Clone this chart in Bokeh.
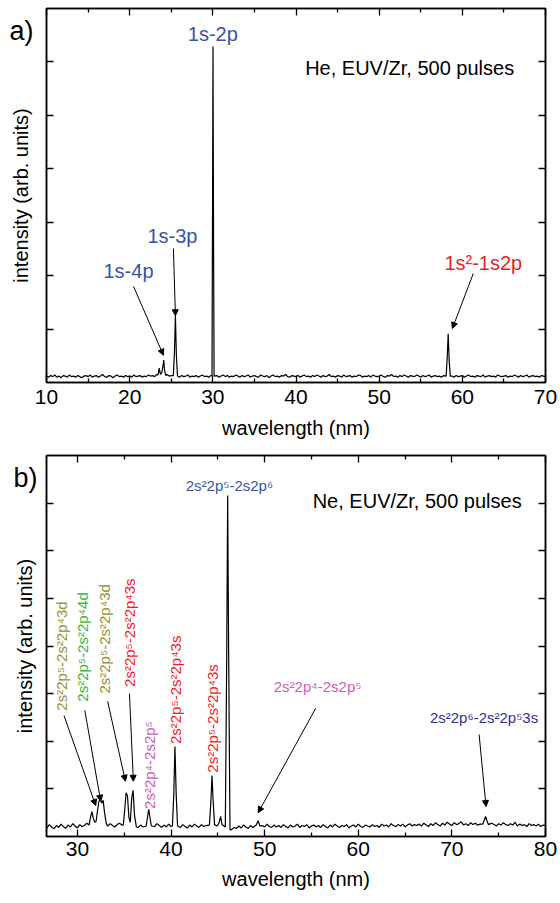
import numpy as np
from bokeh.plotting import figure
from bokeh.models import (Label, LabelSet, Arrow, NormalHead, LinearAxis, FixedTicker,
                          Range1d, ColumnDataSource, CustomJSTickFormatter)
from bokeh.core.properties import value
from bokeh.layouts import column
from bokeh.embed import file_html
from bokeh.resources import INLINE

FONT = "Liberation Sans"

# ---------------- data: panel a (He) ----------------
he_base_start = 10.0
he_base_step = 0.25
he_base_int = [
    0.12, 0.10, 0.13, 0.11, 0.14, 0.10, 0.12, 0.09, 0.13, 0.12, 0.10, 0.14, 0.11, 0.12, 0.10, 0.13, 0.11, 0.09, 0.12, 0.13,
    0.11, 0.14, 0.10, 0.12, 0.13, 0.10, 0.12, 0.15, 0.11, 0.10, 0.13, 0.12, 0.09, 0.12, 0.14, 0.11, 0.12, 0.10, 0.13, 0.11,
    0.12, 0.10, 0.14, 0.11, 0.12, 0.13, 0.10, 0.12, 0.11, 0.14, 0.12, 0.13, 0.11, 0.15, 0.13, 0.14, 0.16, 0.13, 0.15, 0.12,
    0.13, 0.11, 0.14, 0.12, 0.10, 0.13, 0.11, 0.12, 0.14, 0.10, 0.12, 0.11, 0.13, 0.10, 0.12, 0.14, 0.11, 0.12, 0.10, 0.13,
    0.12, 0.11, 0.13, 0.10, 0.12, 0.14, 0.11, 0.13, 0.10, 0.12, 0.11, 0.14, 0.12, 0.10, 0.13, 0.11, 0.12, 0.14, 0.10, 0.12,
    0.13, 0.11, 0.10, 0.14, 0.12, 0.11, 0.13, 0.09, 0.12, 0.14, 0.11, 0.12, 0.10, 0.13, 0.12, 0.15, 0.11, 0.10, 0.13, 0.12,
    0.11, 0.13, 0.10, 0.12, 0.14, 0.11, 0.12, 0.10, 0.13, 0.11, 0.14, 0.12, 0.10, 0.13, 0.11, 0.12, 0.15, 0.11, 0.12, 0.10,
    0.13, 0.12, 0.10, 0.14, 0.11, 0.12, 0.13, 0.10, 0.12, 0.11, 0.14, 0.13, 0.10, 0.12, 0.11, 0.13, 0.10, 0.14, 0.12, 0.11,
    0.12, 0.14, 0.11, 0.10, 0.13, 0.12, 0.15, 0.11, 0.12, 0.10, 0.13, 0.11, 0.14, 0.12, 0.10, 0.13, 0.12, 0.11, 0.14, 0.12,
    0.10, 0.13, 0.11, 0.12, 0.14, 0.10, 0.12, 0.13, 0.11, 0.12, 0.10, 0.13, 0.12, 0.11, 0.14, 0.12, 0.10, 0.13, 0.11, 0.12,
    0.13, 0.10, 0.12, 0.14, 0.11, 0.12, 0.10, 0.13, 0.12, 0.11, 0.14, 0.10, 0.12, 0.13, 0.11, 0.12, 0.10, 0.14, 0.12, 0.11,
    0.12, 0.13, 0.10, 0.12, 0.11, 0.14, 0.12, 0.10, 0.13, 0.11, 0.12, 0.14, 0.10, 0.12, 0.13, 0.11, 0.12, 0.10, 0.13, 0.12,
    0.11,
]
he_peak_wl = [23.40, 23.55, 23.70, 23.85, 24.00, 24.10, 24.20, 24.35,
              25.25, 25.38, 25.50, 25.62, 25.75,
              29.90, 29.97, 30.02, 30.08, 30.15,
              58.05, 58.18, 58.30, 58.42, 58.55]
he_peak_int = [0.14, 0.27, 0.15, 0.18, 0.30, 0.42, 0.22, 0.13,
               0.13, 0.55, 1.25, 0.50, 0.12,
               0.13, 3.50, 6.29, 3.00, 0.12,
               0.12, 0.45, 0.91, 0.40, 0.12]

he_xticks = [10, 20, 30, 40, 50, 60, 70]
he_xminor = [15, 25, 35, 45, 55, 65]
he_yticks = [1, 2, 3, 4, 5, 6]
he_tag = "a)"
he_tag_y = 6.57

he_lbl_text = ["1s-2p", "1s-3p", "1s-4p", "1s\u00b2-1s2p"]
he_lbl_x = [30.0, 25.14, 19.86, 62.52]
he_lbl_y = [6.53, 2.75, 2.08, 2.23]
he_lbl_color = ["#3953a4", "#3953a4", "#3953a4", "#ed1c24"]

he_arr_x0 = [25.26, 20.46, 61.32]
he_arr_y0 = [2.51, 1.80, 2.04]
he_arr_x1 = [25.50, 24.06, 58.80]
he_arr_y1 = [1.25, 0.51, 1.01]

# ---------------- data: panel b (Ne) ----------------
ne_base_start = 26.5
ne_base_step = 0.25
ne_base_int = [
    0.22, 0.18, 0.25, 0.20, 0.16, 0.23, 0.19, 0.26, 0.21, 0.17, 0.24, 0.20, 0.27, 0.22, 0.18, 0.25, 0.21, 0.23, 0.28, 0.24,
    0.29, 0.26, 0.31, 0.27, 0.24, 0.29, 0.25, 0.22, 0.27, 0.23, 0.20, 0.25, 0.28, 0.24, 0.27, 0.23, 0.29, 0.26, 0.24, 0.21,
    0.19, 0.24, 0.20, 0.26, 0.22, 0.18, 0.25, 0.21, 0.27, 0.23, 0.19, 0.24, 0.20, 0.26, 0.21, 0.17, 0.24, 0.22, 0.19, 0.25,
    0.21, 0.18, 0.24, 0.20, 0.26, 0.22, 0.19, 0.25, 0.21, 0.23, 0.18, 0.24, 0.26, 0.22, 0.27, 0.23, 0.20, 0.25, 0.22, 0.19,
    0.15, 0.19, 0.17, 0.22, 0.18, 0.24, 0.20, 0.17, 0.23, 0.19, 0.25, 0.21, 0.18, 0.23, 0.20, 0.26, 0.21, 0.19, 0.24, 0.20,
    0.23, 0.19, 0.25, 0.21, 0.18, 0.24, 0.20, 0.22, 0.26, 0.19, 0.23, 0.21, 0.25, 0.18, 0.22, 0.24, 0.20, 0.23, 0.19, 0.25,
    0.21, 0.18, 0.24, 0.20, 0.26, 0.22, 0.19, 0.23, 0.21, 0.25, 0.18, 0.22, 0.24, 0.20, 0.26, 0.21, 0.19, 0.24, 0.22, 0.20,
    0.25, 0.21, 0.23, 0.19, 0.26, 0.22, 0.24, 0.20, 0.27, 0.23, 0.21, 0.25, 0.22, 0.26, 0.20, 0.24, 0.27, 0.22, 0.25, 0.23,
    0.26, 0.22, 0.28, 0.24, 0.21, 0.27, 0.23, 0.29, 0.25, 0.22, 0.28, 0.24, 0.30, 0.26, 0.23, 0.29, 0.25, 0.27, 0.31, 0.24,
    0.27, 0.23, 0.29, 0.25, 0.28, 0.24, 0.26, 0.30, 0.25, 0.27, 0.23, 0.28, 0.25, 0.22, 0.27, 0.24, 0.29, 0.25, 0.23, 0.27,
    0.24, 0.30, 0.22, 0.26, 0.23, 0.25, 0.21, 0.27, 0.23, 0.25, 0.22, 0.26, 0.21, 0.24,
    0.23,
]
ne_peak_wl = [31.25, 31.40, 31.55, 31.70, 31.85,
              32.00, 32.15, 32.30, 32.45, 32.60, 32.75, 32.90, 33.10,
              34.90, 35.05, 35.20, 35.35, 35.50, 35.65, 35.80, 35.95, 36.10, 36.30,
              37.35, 37.50, 37.62, 37.75, 37.90,
              40.15, 40.30, 40.42, 40.55, 40.70,
              44.10, 44.25, 44.38, 44.50, 44.65,
              44.95, 45.15, 45.30, 45.45,
              45.80, 45.95, 46.05, 46.15, 46.30,
              49.10, 49.30, 49.50,
              73.30, 73.45, 73.60, 73.75, 73.90]
ne_peak_int = [0.24, 0.40, 0.52, 0.38, 0.30,
               0.32, 0.55, 0.74, 0.78, 0.70, 0.76, 0.50, 0.26,
               0.24, 0.55, 0.92, 0.85, 0.40, 0.30, 0.80, 0.97, 0.45, 0.20,
               0.22, 0.42, 0.57, 0.40, 0.22,
               0.22, 0.90, 1.89, 0.90, 0.22,
               0.24, 0.70, 1.28, 0.75, 0.25,
               0.22, 0.30, 0.42, 0.25,
               0.20, 3.80, 7.16, 4.00, 0.14,
               0.24, 0.33, 0.22,
               0.26, 0.34, 0.42, 0.33, 0.25]

ne_xticks = [30, 40, 50, 60, 70, 80]
ne_xminor = [35, 45, 55, 65, 75]
ne_yticks = [1, 2, 3, 4, 5, 6, 7]
ne_tag = "b)"
ne_tag_y = 7.52

SUP2, SUP4, SUP5, SUP6 = "\u00b2", "\u2074", "\u2075", "\u2076"
ne_lbl_text = [
    "2s" + SUP2 + "2p" + SUP5 + "-2s" + SUP2 + "2p" + SUP4 + "3d",
    "2s" + SUP2 + "2p" + SUP5 + "-2s" + SUP2 + "2p" + SUP4 + "4d",
    "2s" + SUP2 + "2p" + SUP5 + "-2s" + SUP2 + "2p" + SUP4 + "3d",
    "2s" + SUP2 + "2p" + SUP5 + "-2s" + SUP2 + "2p" + SUP4 + "3s",
    "2s" + SUP2 + "2p" + SUP4 + "-2s2p" + SUP5,
    "2s" + SUP2 + "2p" + SUP5 + "-2s" + SUP2 + "2p" + SUP4 + "3s",
    "2s" + SUP2 + "2p" + SUP5 + "-2s" + SUP2 + "2p" + SUP4 + "3s",
    "2s" + SUP2 + "2p" + SUP5 + "-2s2p" + SUP6,
    "2s" + SUP2 + "2p" + SUP4 + "-2s2p" + SUP5,
    "2s" + SUP2 + "2p" + SUP6 + "-2s" + SUP2 + "2p" + SUP5 + "3s",
]
ne_lbl_x = [28.25, 30.58, 32.91, 35.56, 37.67, 40.45, 44.40, 46.24, 55.66, 73.44]
ne_lbl_y = [3.79, 3.98, 4.15, 4.28, 1.50, 3.08, 2.48, 7.37, 3.15, 2.50]
ne_lbl_angle = [1.5708] * 7 + [0.0] * 3
ne_lbl_color = ["#939335", "#3cb43c", "#939335", "#ed1c24", "#c65fb4",
                "#ed1c24", "#ed1c24", "#3953a4", "#c65fb4", "#2e3192"]

ne_arr_x0 = [28.57, 30.79, 33.23, 35.56, 55.45, 72.91]
ne_arr_y0 = [2.54, 2.65, 2.84, 3.00, 2.69, 2.14]
ne_arr_x1 = [31.96, 32.49, 35.13, 35.98, 49.31, 73.65]
ne_arr_y1 = [0.65, 0.74, 1.16, 1.16, 0.50, 0.63]


def merge(start, step, base_int, peak_wl, peak_int):
    bw = start + step * np.arange(len(base_int))
    bi = np.array(base_int)
    pw = np.array(peak_wl)
    keep = np.array([np.min(np.abs(pw - w)) > 0.14 for w in bw])
    wl = np.concatenate([bw[keep], pw])
    it = np.concatenate([bi[keep], np.array(peak_int)])
    order = np.argsort(wl)
    return wl[order], it[order]


blank = CustomJSTickFormatter(code="return ''")


def style_axis(ax, ticks, minor, labels):
    ax.ticker = FixedTicker(ticks=ticks, minor_ticks=minor)
    ax.axis_line_width = 1.5
    ax.axis_line_color = "black"
    ax.major_tick_in = 7
    ax.major_tick_out = 0
    ax.minor_tick_in = 4
    ax.minor_tick_out = 0
    ax.major_tick_line_width = 1.3
    ax.minor_tick_line_width = 1.3
    ax.major_tick_line_color = "black"
    ax.minor_tick_line_color = "black"
    ax.major_label_text_font = FONT
    ax.major_label_text_font_size = "21px"
    ax.major_label_text_color = "black"
    ax.axis_label_text_font = FONT
    ax.axis_label_text_font_size = "20px"
    ax.axis_label_text_font_style = "normal"
    ax.axis_label_text_color = "black"
    if not labels:
        ax.formatter = blank
        ax.major_label_standoff = 0


def make_panel(xr, yr, width, height, ml, mr, mt, mb, xt, xm, yt, tag, tag_y,
               wl, it, arr_src, xtick_standoff, xlab_standoff, tag_standoff):
    p = figure(width=width, height=height, x_range=Range1d(*xr), y_range=Range1d(*yr),
               output_backend="svg", toolbar_location=None,
               min_border_left=ml, min_border_right=mr, min_border_top=mt,
               min_border_bottom=mb)
    p.xgrid.visible = False
    p.ygrid.visible = False
    p.outline_line_color = "black"
    p.outline_line_width = 1.5
    p.background_fill_color = "white"
    p.border_fill_color = "white"

    style_axis(p.xaxis[0], xt, xm, True)
    p.xaxis[0].axis_label = "wavelength (nm)"
    p.xaxis[0].major_label_standoff = xtick_standoff
    p.xaxis[0].axis_label_standoff = xlab_standoff

    # left axis: visible ticks are the minor ticks; the single (zero-length)
    # major tick carries the panel tag "a)" / "b)" as its label
    ya = p.yaxis[0]
    style_axis(ya, [tag_y], yt, True)
    ya.major_tick_in = 0
    ya.minor_tick_in = 7
    ya.major_label_overrides = {tag_y: tag}
    ya.major_label_text_font_size = "27px"
    ya.major_label_standoff = tag_standoff
    ya.axis_label = "intensity (arb. units)"
    ya.axis_label_standoff = -26

    top = LinearAxis()
    style_axis(top, xt, xm, False)
    p.add_layout(top, "above")
    right = LinearAxis()
    style_axis(right, yt, [], False)
    p.add_layout(right, "right")

    p.line(wl, it, line_color="black", line_width=1.2)

    p.add_layout(Arrow(end=NormalHead(size=6, fill_color="black", line_color="black",
                                      line_width=1),
                       source=arr_src, x_start="x0", y_start="y0", x_end="x1", y_end="y1",
                       line_color="black", line_width=1))
    return p


# ---------------- panel a ----------------
he_wl, he_it = merge(he_base_start, he_base_step, he_base_int, he_peak_wl, he_peak_int)
he_lbl = ColumnDataSource(dict(x=he_lbl_x, y=he_lbl_y, text=he_lbl_text, color=he_lbl_color))
he_arr = ColumnDataSource(dict(x0=he_arr_x0, y0=he_arr_y0, x1=he_arr_x1, y1=he_arr_y1))

pa = make_panel((10, 70), (0, 7), 560, 451, 46, 15, 8, 69,
                he_xticks, he_xminor, he_yticks, he_tag, he_tag_y,
                he_wl, he_it, he_arr, 7, 10, 13)
pa.add_layout(LabelSet(x="x", y="y", text="text", source=he_lbl, text_color="color",
                       text_font=value(FONT), text_font_size=value("20px"),
                       text_align="center", text_baseline="middle"))
pa.add_layout(Label(x=41.1, y=5.88, text="He, EUV/Zr, 500 pulses", text_font=FONT,
                    text_font_size="20px", text_align="left", text_baseline="middle",
                    text_color="black"))

# ---------------- panel b ----------------
ne_wl, ne_it = merge(ne_base_start, ne_base_step, ne_base_int, ne_peak_wl, ne_peak_int)
ne_lbl = ColumnDataSource(dict(x=ne_lbl_x, y=ne_lbl_y, text=ne_lbl_text,
                               color=ne_lbl_color, angle=ne_lbl_angle))
ne_arr = ColumnDataSource(dict(x0=ne_arr_x0, y0=ne_arr_y0, x1=ne_arr_x1, y1=ne_arr_y1))

pb = make_panel((26.7, 80), (0, 8), 560, 449, 43, 13, 4, 64,
                ne_xticks, ne_xminor, ne_yticks, ne_tag, ne_tag_y,
                ne_wl, ne_it, ne_arr, 5, 9, 9)
pb.add_layout(LabelSet(x="x", y="y", text="text", source=ne_lbl, text_color="color",
                       angle="angle", text_font=value(FONT), text_font_size=value("15px"),
                       text_align="center", text_baseline="middle"))
pb.add_layout(Label(x=55.13, y=7.04, text="Ne, EUV/Zr, 500 pulses", text_font=FONT,
                    text_font_size="20px", text_align="left", text_baseline="middle",
                    text_color="black"))

layout = column(pa, pb, spacing=0)
open("out.html", "w").write(file_html(layout, INLINE))
